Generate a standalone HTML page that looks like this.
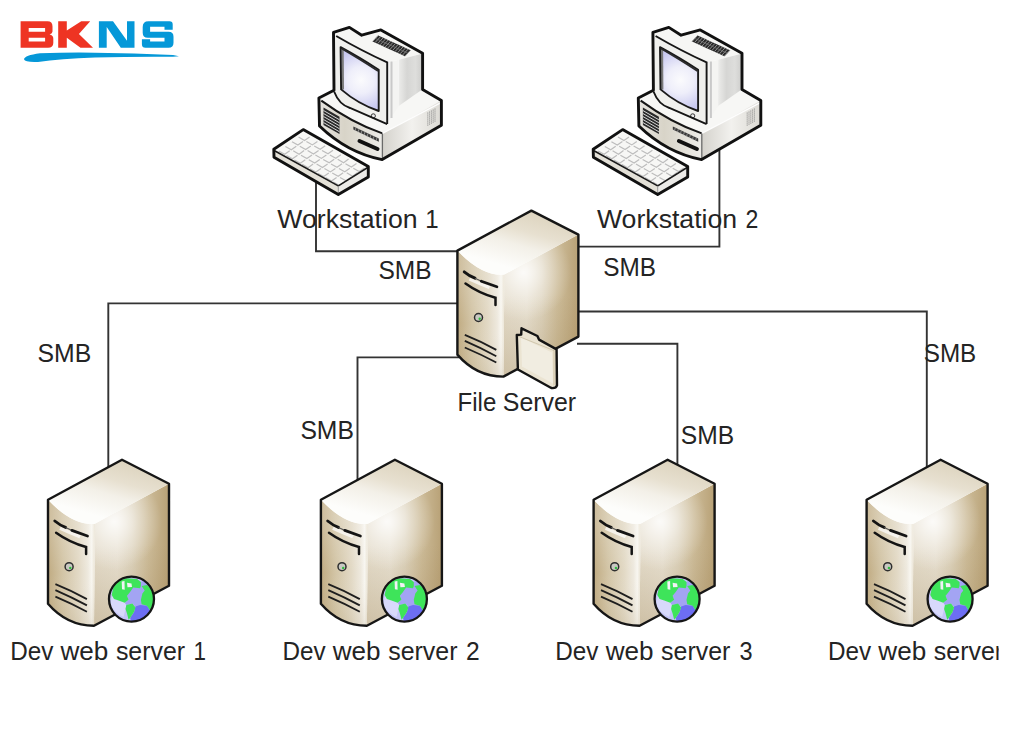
<!DOCTYPE html>
<html><head><meta charset="utf-8">
<style>
html,body{margin:0;padding:0;background:#fff;width:1024px;height:729px;overflow:hidden}
svg{display:block}
text{font-family:"Liberation Sans",sans-serif;font-size:25px;fill:#242424}
</style></head>
<body>
<svg width="1024" height="729" viewBox="0 0 1024 729">
<defs>
  <linearGradient id="gTop" gradientUnits="userSpaceOnUse" x1="5" y1="2" x2="-12" y2="60">
    <stop offset="0" stop-color="#ddd4bf"/>
    <stop offset="0.35" stop-color="#e7e0d0"/>
    <stop offset="0.6" stop-color="#f3f0e8"/>
    <stop offset="1" stop-color="#fdfdfb"/>
  </linearGradient>
  <linearGradient id="gRight" gradientUnits="userSpaceOnUse" x1="-27" y1="0" x2="47" y2="0">
    <stop offset="0" stop-color="#e4dccb"/>
    <stop offset="0.3" stop-color="#e8e1d2"/>
    <stop offset="0.5" stop-color="#ddd3bd"/>
    <stop offset="0.72" stop-color="#ccbb98"/>
    <stop offset="1" stop-color="#b8a176"/>
  </linearGradient>
  <radialGradient id="gRightGlow" gradientUnits="userSpaceOnUse" cx="-8" cy="62" r="48">
    <stop offset="0" stop-color="#fff" stop-opacity="0.85"/>
    <stop offset="0.5" stop-color="#fff" stop-opacity="0.35"/>
    <stop offset="1" stop-color="#fff" stop-opacity="0"/>
  </radialGradient>
  <linearGradient id="gRightV" gradientUnits="userSpaceOnUse" x1="0" y1="85" x2="0" y2="166">
    <stop offset="0" stop-color="#9a7f4e" stop-opacity="0"/>
    <stop offset="1" stop-color="#9a7f4e" stop-opacity="0.3"/>
  </linearGradient>
  <linearGradient id="gFront" gradientUnits="userSpaceOnUse" x1="-74" y1="0" x2="-27" y2="0">
    <stop offset="0" stop-color="#c0ab82"/>
    <stop offset="0.3" stop-color="#d2c4a5"/>
    <stop offset="0.65" stop-color="#e2d9c5"/>
    <stop offset="0.85" stop-color="#eee9de"/>
    <stop offset="0.93" stop-color="#f8f6f0"/>
    <stop offset="1" stop-color="#e9e2d2"/>
  </linearGradient>
  <linearGradient id="gFrontV" gradientUnits="userSpaceOnUse" x1="0" y1="60" x2="0" y2="166">
    <stop offset="0" stop-color="#fff" stop-opacity="0.2"/>
    <stop offset="0.5" stop-color="#fff" stop-opacity="0"/>
    <stop offset="1" stop-color="#8a6f3c" stop-opacity="0.12"/>
  </linearGradient>
  <g id="server">
    <path d="M-27,64 L47,24 L47,126 L-28,166 Z" fill="url(#gRight)"/>
    <path d="M-27,64 L47,24 L47,126 L-28,166 Z" fill="url(#gRightV)"/>
    <path d="M-27,64 L47,24 L47,126 L-28,166 Z" fill="url(#gRightGlow)"/>
    <path d="M-74,40 Q-49.5,66 -27,64 L-28,166 Q-55,166 -74,144 Z" fill="url(#gFront)"/>
    <path d="M-74,40 Q-49.5,66 -27,64 L-28,166 Q-55,166 -74,144 Z" fill="url(#gFrontV)"/>
    <path d="M0,0 L47,24 L-27,64 Q-49.5,66 -74,40 Z" fill="url(#gTop)"/>
    <path d="M0,0 L47,24 L47,126 L-28,166 Q-55,166 -74,144 L-74,40 Z" fill="none" stroke="#161616" stroke-width="2.4" stroke-linejoin="round"/>
    <!-- drive slits -->
    <path d="M-62,68.5 Q-52,73 -42,77" fill="none" stroke="#fff" stroke-width="3.2" stroke-opacity="0.7"/>
    <path d="M-67.2,61.2 Q-62,65.5 -56.4,67.6" fill="none" stroke="#141414" stroke-width="2.9" stroke-linecap="round"/>
    <path d="M-56.4,67.6 Q-53,69 -50.1,70.6" fill="none" stroke="#555" stroke-width="1.1"/>
    <path d="M-50.1,70.6 Q-42,73.5 -34.5,76.2" fill="none" stroke="#141414" stroke-width="2.8" stroke-linecap="round"/>
    <path d="M-65.9,73 Q-52,83 -35.9,87.2 L-35.9,94.3" fill="none" stroke="#141414" stroke-width="2.5" stroke-linecap="round"/>
    <!-- LED -->
    <circle cx="-52.9" cy="106.9" r="4" fill="#c8c8c2" stroke="#2e2e2e" stroke-width="1.5"/>
    <circle cx="-51.7" cy="108.1" r="1.2" fill="#2fbf3f"/>
    <!-- vents -->
    <path d="M-66.6,124.3 Q-50,131 -35.1,139.3" fill="none" stroke="#1e1e1e" stroke-width="1.8"/>
    <path d="M-66.6,130.3 Q-50,137.5 -35.1,145.6" fill="none" stroke="#1e1e1e" stroke-width="1.8"/>
    <path d="M-66.6,136.9 Q-50,144 -35.1,151.9" fill="none" stroke="#1e1e1e" stroke-width="1.8"/>
  </g>
  <radialGradient id="gGlobe" cx="0.3" cy="0.3" r="0.8">
    <stop offset="0" stop-color="#e0e0fb"/>
    <stop offset="0.5" stop-color="#a8a8f4"/>
    <stop offset="1" stop-color="#6262ee"/>
  </radialGradient>
  <clipPath id="gclip"><circle r="22.5"/></clipPath>
  <g id="globe">
    <g clip-path="url(#gclip)">
    <circle r="22.5" fill="#c4c5f7"/>
    <path d="M-21,6 Q-20,-4 -17,-8 L-10,-3 L-4,4 L-6,10 L-8,18 Q-17,14 -21,6 Z" fill="#d8d9fb"/>
    <path d="M-19.4,-5.6 L-17.5,-14 L-12.1,-18.6 L-5.2,-20.9 L5.5,-20.2 L9.4,-17.1 L14,-20 L20,-12 L22,-3 L21,8 L12,14 L4,8 L0.9,4.4 L-5.2,6 L-6.8,3.7 L-2.9,0.6 L-4.5,-3.3 Z" fill="#a3a4f3"/>
    <path d="M4,7.5 L8.6,6 L15.5,6.7 L18.6,11.3 L21,12 Q18,19 8,22.5 L-0.6,22 L-1.4,19 L2.5,12.9 Z" fill="#6d6ef3"/>
    <path d="M-19.8,-4 L-17.5,-14 L-12.1,-18.6 L-5.2,-20.9 L5.5,-20.2 L9.4,-17.1 L9.4,-13.2 L8.6,-10.9 L1.7,-11.7 L-1.4,-7.1 L-4.5,-3.3 L-2.9,0.6 L-6.8,3.7 L-12.9,1.4 L-17.5,-0.2 Z" fill="#3ee45a"/>
    <path d="M10.1,-13.2 L15.5,-14 L20.1,-10.2 L22.4,-3.3 L21.7,4.4 L18.6,11.3 L15.5,6.7 L10.1,5.2 L9.4,0.6 L10.9,-5.6 L13.2,-8.6 Z" fill="#3ee45a"/>
    <path d="M-5.2,6 L0.9,4.4 L4,8.3 L2.5,12.9 L-1.4,19 L-2.9,20.6 L-4.5,14.4 L-6,9.8 Z" fill="#3ee45a"/>
    <path d="M-9.8,-17.5 L-7,-18 L-6.8,-9.4 L-9.5,-9.8 Z M-4.5,-16.3 L0,-15.5 L0.5,-12 L-4,-11.8 Z" fill="#f2f2f6"/>
    </g>
    <circle r="22.5" fill="none" stroke="#161616" stroke-width="2.3"/>
  </g>

  <radialGradient id="gScreen" gradientUnits="userSpaceOnUse" cx="361" cy="80" r="30">
    <stop offset="0" stop-color="#fbfbfd"/>
    <stop offset="0.45" stop-color="#eeeefa"/>
    <stop offset="1" stop-color="#c9c9f0"/>
  </radialGradient>
  <linearGradient id="gBody" x1="0" y1="0" x2="1" y2="0">
    <stop offset="0" stop-color="#ececea"/>
    <stop offset="0.35" stop-color="#d6d6d4"/>
    <stop offset="0.7" stop-color="#dededc"/>
    <stop offset="1" stop-color="#cdcdcb"/>
  </linearGradient>
  <linearGradient id="gBaseFront" x1="0" y1="0" x2="1" y2="0">
    <stop offset="0" stop-color="#e6e4df"/>
    <stop offset="0.4" stop-color="#d8d4c8"/>
    <stop offset="1" stop-color="#ecebe7"/>
  </linearGradient>
  <linearGradient id="gBaseRight" x1="0" y1="0" x2="1" y2="0">
    <stop offset="0" stop-color="#d4d2cc"/>
    <stop offset="0.5" stop-color="#f2f1ee"/>
    <stop offset="1" stop-color="#dcdad4"/>
  </linearGradient>
  <g id="ws">
    <!-- base top -->
    <path d="M318.9,98 L334,90.3 L421.7,89.4 L441.4,100.4 L382.4,133.4 Q352.1,123 321.3,100.6 Z" fill="#f7f7f5"/>
    <!-- base front -->
    <path d="M319.5,99.5 Q352.1,123 382.4,133.4 L382.4,159.6 Q347.5,153 319.5,126 Z" fill="url(#gBaseFront)"/>
    <!-- base right -->
    <path d="M382.4,133.4 L441.4,100.4 L441.4,125.2 L382.4,159.6 Z" fill="url(#gBaseRight)"/>
    <!-- monitor top faces -->
    <path d="M333.5,32.4 L349.4,27.4 L361.7,35.2 L380.9,29.9 L422.6,53.2 L398.7,59.8 L387.5,62.4 Q362,51 336.2,36 Z" fill="#f6f6f4"/>
    <!-- body right face -->
    <path d="M398.7,59.8 L422.6,53.5 L422.6,89.3 L398.7,106 Z" fill="url(#gBody)"/>
    <!-- bezel side -->
    <path d="M387.2,62.4 L398.7,59.8 L398.7,106 L387.2,123.5 Z" fill="#f4f4f2"/>
    <path d="M391.5,61.5 L391.5,118" stroke="#c9c9c9" stroke-width="2" fill="none"/>
    <!-- bezel front -->
    <path d="M334,33.5 L336.2,36 Q362,51 387.2,62.4 L387.2,124.1 L350,108 Q339,104.5 334.1,91.5 Z" fill="#f0f0ed"/>
    <!-- screen -->
    <path d="M340.6,47.2 Q358,56.5 378.7,69.8 L378.7,111 Q358,104 341.1,89.4 Z" fill="url(#gScreen)"/>
    <path d="M342.6,49 L342.9,89.5" stroke="#7a7a7a" stroke-width="2.2" fill="none"/>
    <path d="M340.6,47.2 Q358,56.5 378.7,69.8 L378.7,111 Q358,104 341.1,89.4 Z" fill="none" stroke="#1a1a1a" stroke-width="1.9" stroke-linejoin="round"/>
    <path d="M341.5,48.5 Q358,58 378,71" fill="none" stroke="#2a2a2a" stroke-width="1.6"/>
    <circle cx="373.3" cy="115.9" r="2.1" fill="#eee" stroke="#333" stroke-width="1"/>
    <!-- lines -->
    <path d="M336.2,36 Q362,51 387.2,62.4 L387.2,124.1" fill="none" stroke="#161616" stroke-width="1.9"/>
    <path d="M334.1,91.5 Q339,104.5 350,108 L387.2,124.1" fill="none" stroke="#161616" stroke-width="1.9"/>
    <path d="M321.3,100.6 Q352.1,123 382.4,133.4" fill="none" stroke="#161616" stroke-width="2"/>
    <path d="M382.4,133.4 L441,102.6" fill="none" stroke="#fdfdfd" stroke-width="1.2"/>
    <path d="M382.4,133.4 L382.4,159" fill="none" stroke="#6a6a6a" stroke-width="1.3"/>
    <!-- top vent -->
    <path d="M378.2,35.4 L410.6,50.2 L405.0,56.2 L372.6,41.4 Z" fill="#2a2a2a"/>
    <path d="M378.2,35.4 L372.6,41.4 M380.7,36.5 L375.1,42.5 M383.2,37.7 L377.6,43.7 M385.7,38.8 L380.1,44.8 M388.2,40.0 L382.6,46.0 M390.7,41.1 L385.1,47.1 M393.2,42.2 L387.6,48.2 M395.6,43.4 L390.0,49.4 M398.1,44.5 L392.5,50.5 M400.6,45.6 L395.0,51.6 M403.1,46.8 L397.5,52.8 M405.6,47.9 L400.0,53.9 M408.1,49.1 L402.5,55.1 M410.6,50.2 L405.0,56.2" stroke="#9c9c9c" stroke-width="0.9" fill="none"/>
    <path d="M375.4,38.4 L407.8,53.2" stroke="#777" stroke-width="0.7" fill="none"/>
    <!-- base left vent -->
    <path d="M323.5,107.5 L339.5,116.8 L339.5,134 L323.5,125 Z" fill="#2a2a2a"/>
    <path d="M323.5,110.5 L339.5,119.8 M323.5,113.5 L339.5,122.8 M323.5,116.5 L339.5,125.8 M323.5,119.5 L339.5,128.8 M323.5,122.5 L339.5,131.8" stroke="#d5d5d5" stroke-width="1" fill="none"/>
    <!-- floppy hatch -->
    <path d="M353.4,126.4 L378.8,138.6 L378.8,141.8 L353.4,129.6 Z" fill="#3a3a3a"/>
    <path d="M356,127.6 L355,130.8 M359,129.1 L358,132.3 M362,130.5 L361,133.7 M365,132 L364,135.2 M368,133.4 L367,136.6 M371,134.9 L370,138.1 M374,136.3 L373,139.5 M377,137.8 L376,141" stroke="#a5a5a5" stroke-width="0.8" fill="none"/>
    <!-- drive slot -->
    <path d="M359.5,141 L377.5,149" stroke="#111" stroke-width="4" stroke-linecap="round" fill="none"/>
    <!-- right vents -->
    <path d="M427.8,112.5 L427.8,126 M429.6,111.5 L429.6,125 M431.4,110.5 L431.4,124 M433.2,109.5 L433.2,123 M435,108.5 L435,122" stroke="#8a8a8a" stroke-width="0.9" fill="none" stroke-dasharray="1.2 0.8"/>
    <!-- silhouette -->
    <path d="M333.5,32.4 L349.4,27.4 L361.7,35.2 L380.9,29.9 L422.6,53.2 L422.6,89.4 L441.4,100.4 L441.4,125.2 L382.2,159.6 Q347.5,153 319.5,126 L318.9,98 L334,90.3 Z" fill="none" stroke="#111" stroke-width="2.9" stroke-linejoin="round"/>
    <!-- keyboard -->
    <path d="M303.2,129.6 L368.3,166.6 L338.3,185.9 L274.6,150.9 Z" fill="#f7f7f5"/>
    <path d="M274.6,150.7 L338.3,185.9 L338.3,194.6 L274,157.3 Z" fill="#e4e1d8"/>
    <path d="M338.3,185.9 L368.5,166.1 L368.5,177.1 L338.3,194.6 Z" fill="#ecebe8"/>
    <path d="M309.6,137.0 L304.5,140.5 L298.6,137.1 M303.0,141.6 L297.9,145.1 L292.0,141.7 M296.3,146.2 L291.3,149.7 L285.4,146.4 M289.7,150.8 L284.7,154.3 L278.7,151.0 M317.4,141.4 L312.4,144.9 L306.4,141.5 M310.8,146.0 L305.7,149.5 L299.8,146.2 M304.1,150.6 L299.1,154.2 L293.2,150.8 M297.5,155.3 L292.5,158.8 L286.5,155.4 M325.2,145.8 L320.2,149.3 L314.2,146.0 M318.6,150.5 L313.5,154.0 L307.6,150.6 M312.0,155.1 L306.9,158.6 L301.0,155.2 M305.3,159.7 L300.3,163.2 L294.4,159.9 M333.0,150.3 L328.0,153.8 L322.0,150.4 M326.4,154.9 L321.4,158.4 L315.4,155.0 M319.8,159.5 L314.7,163.0 L308.8,159.7 M313.1,164.1 L308.1,167.7 L302.2,164.3 M340.8,154.7 L335.8,158.2 L329.9,154.9 M334.2,159.3 L329.2,162.8 L323.2,159.5 M327.6,164.0 L322.5,167.5 L316.6,164.1 M321.0,168.6 L315.9,172.1 L310.0,168.7 M348.6,159.1 L343.6,162.7 L337.7,159.3 M342.0,163.8 L337.0,167.3 L331.0,163.9 M335.4,168.4 L330.4,171.9 L324.4,168.5 M328.8,173.0 L323.7,176.5 L317.8,173.2 M356.5,163.6 L351.4,167.1 L345.5,163.7 M349.8,168.2 L344.8,171.7 L338.9,168.4 M343.2,172.8 L338.2,176.3 L332.2,173.0 M336.6,177.5 L331.5,181.0 L325.6,177.6 M364.3,168.0 L359.2,171.5 L353.3,168.2 M357.6,172.6 L352.6,176.2 L346.7,172.8 M351.0,177.3 L346.0,180.8 L340.0,177.4 M344.4,181.9 L339.4,185.4 L333.4,182.0" stroke="#bdbdbd" stroke-width="1.2" fill="none"/>
    <path d="M274.6,150.7 L338.3,185.9 L368.5,167" fill="none" stroke="#1a1a1a" stroke-width="1.6"/>
    <path d="M338.3,185.9 L338.3,194" fill="none" stroke="#999" stroke-width="1"/>
    <path d="M303.2,129.6 L368.3,166.6 L368.3,177.1 L338.3,194.6 L274,157.3 L273.8,149.2 Z" fill="none" stroke="#111" stroke-width="2.9" stroke-linejoin="round"/>
  </g>
</defs>

<!-- connection lines -->
<g fill="none" stroke="#333" stroke-width="1.9">
  <polyline points="316,175 316,251.2 458,251.2"/>
  <polyline points="577,246.6 719.4,246.6 719.4,150"/>
  <polyline points="108.3,469 108.3,303.4 458,303.4"/>
  <polyline points="577,311.5 926.8,311.5 926.8,469"/>
  <polyline points="357.5,481 357.5,357.4 459,357.4"/>
  <polyline points="577,343.7 677.4,343.7 677.4,466"/>
</g>

<!-- workstations -->
<use href="#ws"/>
<use href="#ws" x="319.4" y="0"/>
<!-- servers -->
<use href="#server" x="122" y="459.8"/>
<use href="#globe" x="131.5" y="599.1"/>
<use href="#server" x="394.9" y="459.8"/>
<use href="#globe" x="404.4" y="599.1"/>
<use href="#server" x="667.6" y="459.8"/>
<use href="#globe" x="677.1" y="599.1"/>
<use href="#server" x="940.6" y="459.8"/>
<use href="#globe" x="950.1" y="599.1"/>

<use href="#server" x="531.4" y="210.6"/>
<!-- folder -->
<g transform="translate(0,0.6)">
  <path d="M516.8,334.4 L521.2,334 L521.5,327.7 L537.4,335.4 L539,339 L556.6,348.8 L557,384.8 Q556,388 551.3,387.4 L517.9,368.9 Z" fill="#ebe4d2"/>
  <path d="M521,337 L552,352 L553,383 L522,366 Z" fill="#f3efe5" opacity="0.8"/>
  <path d="M553,347 L556.6,349 L557,384 L553,385 Z" fill="#ddd3bb"/>
  <path d="M518,335.5 L554,350" fill="none" stroke="#c9bfa5" stroke-width="0.8"/>
  <path d="M516.8,334.4 L521.2,334 L521.5,327.7 L537.4,335.4 L539,339 L556.6,348.8 L557,384.8 Q556,388 551.3,387.4 L517.9,368.9 Z" fill="none" stroke="#141414" stroke-width="2.4" stroke-linejoin="round"/>
</g>

<!-- labels -->
<clipPath id="clipR"><rect x="0" y="0" width="998.7" height="729"/></clipPath>
<text x="277.36" y="228.10" textLength="140.17" lengthAdjust="spacingAndGlyphs">Workstation</text>
<text x="425.34" y="228.10" textLength="13.37" lengthAdjust="spacingAndGlyphs">1</text>
<text x="596.96" y="228.10" textLength="140.17" lengthAdjust="spacingAndGlyphs">Workstation</text>
<text x="745.48" y="228.10" textLength="12.83" lengthAdjust="spacingAndGlyphs">2</text>
<text x="378.40" y="279.00" textLength="53.09" lengthAdjust="spacingAndGlyphs" style="font-size:26px">SMB</text>
<text x="603.31" y="275.50" textLength="52.77" lengthAdjust="spacingAndGlyphs" style="font-size:26px">SMB</text>
<text x="37.58" y="361.90" textLength="53.72" lengthAdjust="spacingAndGlyphs" style="font-size:26px">SMB</text>
<text x="300.39" y="438.50" textLength="53.51" lengthAdjust="spacingAndGlyphs" style="font-size:26px">SMB</text>
<text x="680.80" y="443.90" textLength="53.30" lengthAdjust="spacingAndGlyphs" style="font-size:26px">SMB</text>
<text x="923.72" y="361.90" textLength="52.56" lengthAdjust="spacingAndGlyphs" style="font-size:26px">SMB</text>
<text x="457.57" y="411.00" textLength="38.71" lengthAdjust="spacingAndGlyphs">File</text>
<text x="502.78" y="411.00" textLength="73.37" lengthAdjust="spacingAndGlyphs">Server</text>
<text x="10.15" y="659.90" textLength="43.17" lengthAdjust="spacingAndGlyphs">Dev</text>
<text x="60.47" y="659.90" textLength="47.83" lengthAdjust="spacingAndGlyphs">web</text>
<text x="115.92" y="659.90" textLength="69.26" lengthAdjust="spacingAndGlyphs">server</text>
<text x="193.56" y="659.90" textLength="12.48" lengthAdjust="spacingAndGlyphs">1</text>
<text x="282.45" y="659.90" textLength="43.17" lengthAdjust="spacingAndGlyphs">Dev</text>
<text x="332.77" y="659.90" textLength="47.83" lengthAdjust="spacingAndGlyphs">web</text>
<text x="388.22" y="659.90" textLength="69.26" lengthAdjust="spacingAndGlyphs">server</text>
<text x="465.90" y="659.90" textLength="13.69" lengthAdjust="spacingAndGlyphs">2</text>
<text x="555.35" y="659.90" textLength="43.17" lengthAdjust="spacingAndGlyphs">Dev</text>
<text x="605.67" y="659.90" textLength="47.83" lengthAdjust="spacingAndGlyphs">web</text>
<text x="661.12" y="659.90" textLength="69.26" lengthAdjust="spacingAndGlyphs">server</text>
<text x="739.42" y="659.90" textLength="13.07" lengthAdjust="spacingAndGlyphs">3</text>
<text x="828.05" y="659.90" textLength="43.17" lengthAdjust="spacingAndGlyphs">Dev</text>
<text x="878.37" y="659.90" textLength="47.83" lengthAdjust="spacingAndGlyphs">web</text>
<text x="933.82" y="659.90" textLength="69.26" lengthAdjust="spacingAndGlyphs" clip-path="url(#clipR)">server</text>
<!-- logo -->
<g>
  <path fill="#ee3423" fill-rule="evenodd" d="M20.6,21.25 H47.5 Q52.5,21.25 52.5,26.5 V31.5 Q52.5,33.6 49.6,34.6 Q53.3,35.6 53.3,38.5 V43 Q53.3,47.8 48,47.8 H20.6 Z M28.7,27.9 H45.1 V31.8 H28.7 Z M28.7,37.7 H45.1 V41.6 H28.7 Z"/>
  <path fill="#ee3423" d="M58.2,21.25 H66.8 V30.6 L81.25,21.25 H90.2 L78.9,34.1 L93,47.8 H80.5 L66.8,37.7 V47.8 H58.2 Z"/>
  <path fill="#0598d8" d="M98.9,21.25 H113 L127,40.8 V21.25 H134.5 V47.8 H120.8 L106.7,27.1 V47.8 H98.9 Z"/>
  <path fill="#0598d8" d="M142.7,27 Q142.7,21.25 148.5,21.25 H169.5 Q172.7,21.25 172.7,24.5 V29.8 H164.5 V26.7 H150.1 V31.8 H168.5 Q173.5,31.8 173.5,36.8 V42.8 Q173.5,47.8 168.5,47.8 H145.5 Q141.9,47.8 141.9,44.2 V39.2 H150.1 V41.6 H164.5 V37.7 H147.7 Q142.7,37.7 142.7,32.7 Z"/>
  <path fill="#0598d8" d="M24,59.2 Q24.5,55.5 40,53.3 Q70,52.2 95,52.7 Q134,53.2 173,55.1 L179,56.3 L173,56.8 Q134,56.4 95,57.6 Q60,59 38,61.9 Q25,62.5 24,59.2 Z"/>
</g>
</svg>
</body></html>
